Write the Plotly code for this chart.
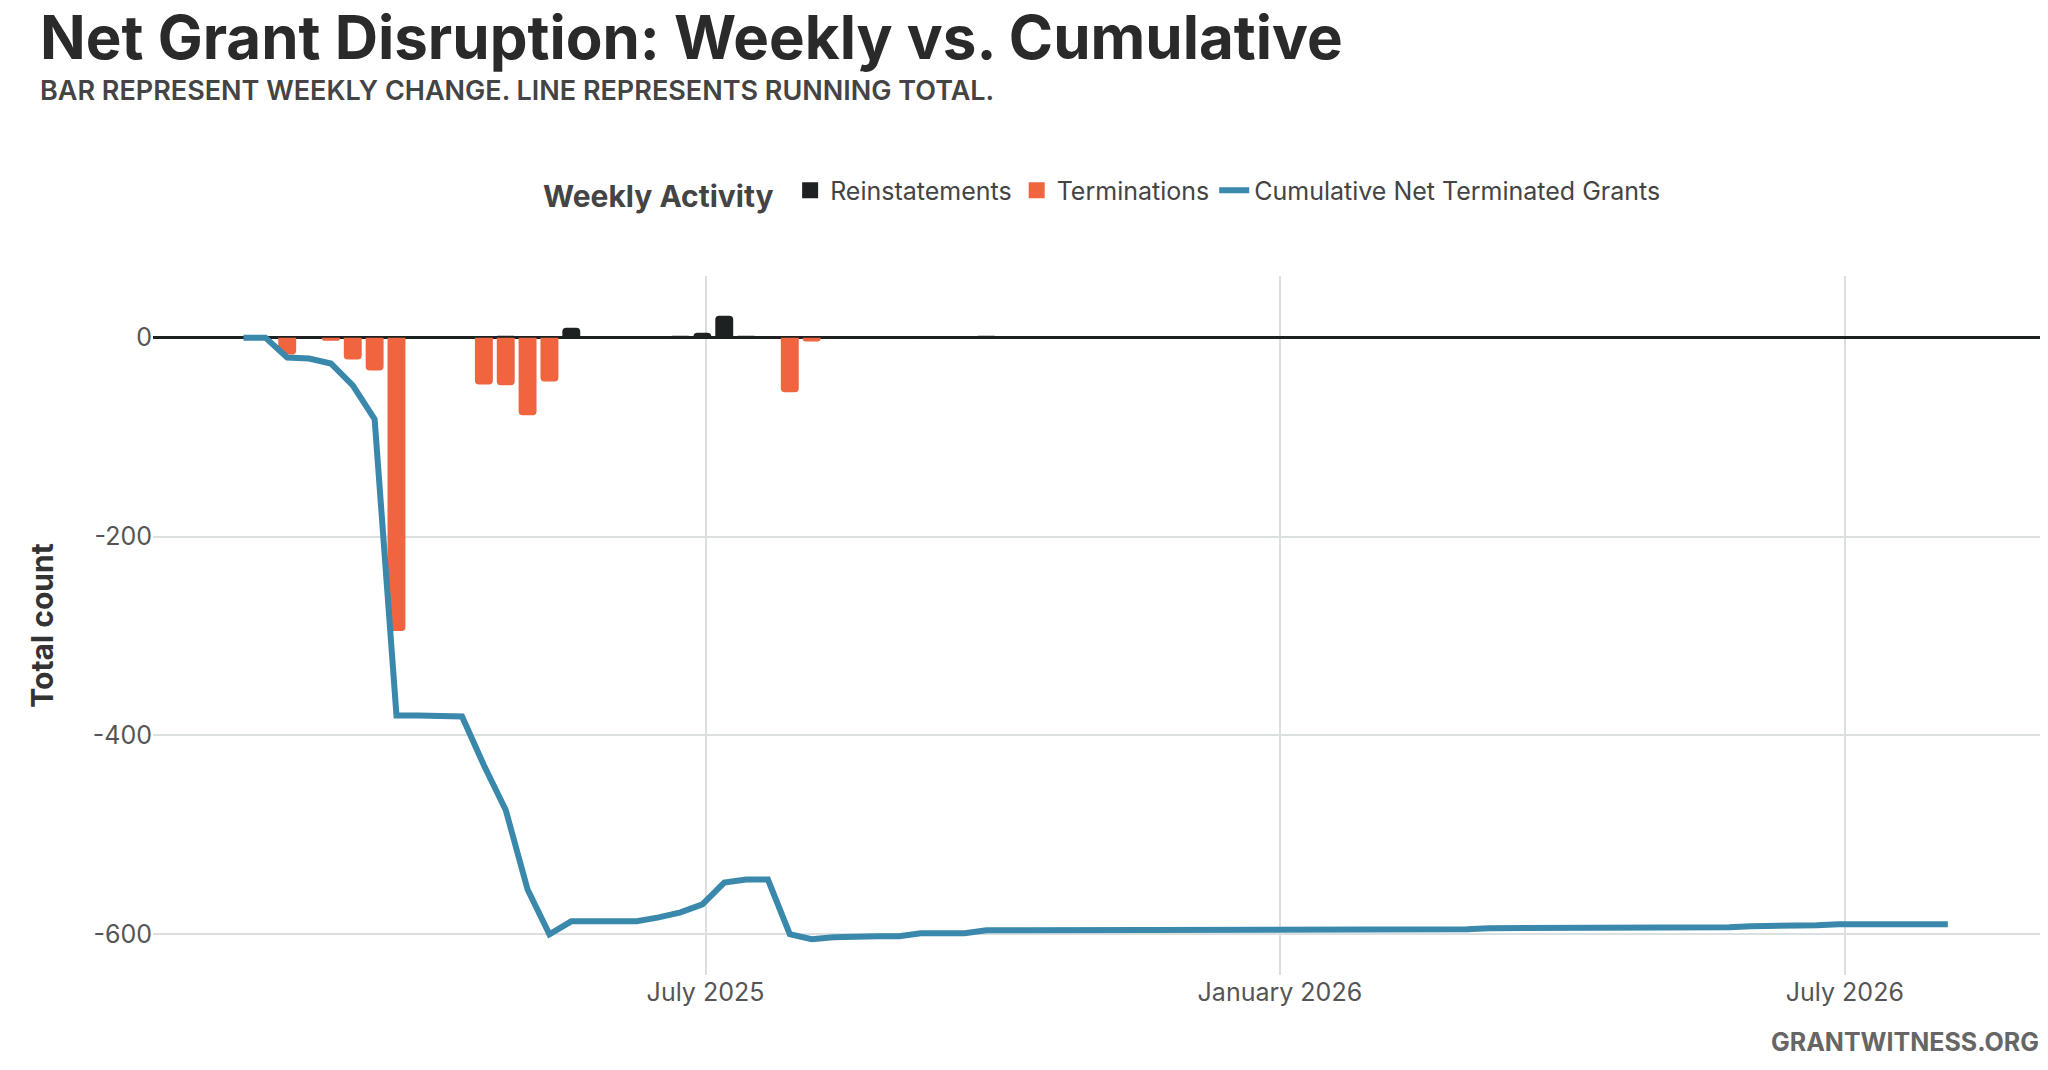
import plotly.graph_objects as go
import pandas as pd

start = "2025-02-03"
n_weeks = 79
weeks = list(pd.date_range(start, periods=n_weeks, freq="7D"))

terminations = [0,0,-17,0,-3,-22,-33,-295,0,0,0,-47,-48,-78,-44,0,0,0,0,0,
                0,0,0,0,0,-55,-4,0,0,0,0,0,0,0,0,0,0,0,0,0,
                0,0,0,0,0,0,0,0,0,0,0,0,0,0,0,0,0,0,0,0,
                0,0,0,0,0,0,0,0,0,0,0,0,0,0,0,0,0,0,0]
reinstatements = [0,0,0,0,0,0,0,0,0,0,0,0,2,0,0,10,0,1,0,1,
                  2,5,22,2,0,0,0,1,0,0,0,1,0,0,2,0,0,0,0,0,
                  0,0,0,0,0,0,0,0,0,0,0,0,0,0,0,0,0,0,0,0,
                  0,0,0,0,0,0,0,0,0,0,0,0,0,1,0,0,0,0,0]
cumulative = [0,0,-20,-21,-26,-48,-82,-380,-380,-380,-381,-430,-475,-555,-600,-587,-587,-587,-587,-583,
              -578,-570,-548,-545,-545,-600,-605,-603,-602,-602,-602,-599,-599,-599,-596,-596,-596,-596,-596,-596,
              -596,-596,-596,-596,-596,-596,-596,-595,-595,-595,-595,-595,-595,-595,-595,-595,-595,-594,-594,-594,
              -594,-594,-593,-593,-593,-593,-593,-593,-593,-592,-592,-592,-591,-590,-590,-590,-590,-590,-590]

tick_vals = ["2025-07-01", "2026-01-01", "2026-07-01"]
tick_text = ["July 2025", "January 2026", "July 2026"]

FONT = "Inter"
week_ms = 7 * 24 * 3600 * 1000 * 0.82
C_REI, C_TER, C_LINE = "#1e2122", "#f06440", "#3a88ab"

fig = go.Figure()
fig.add_trace(go.Bar(x=weeks, y=reinstatements, name="Reinstatements", width=week_ms,
                     marker=dict(color=C_REI, cornerradius=4, line=dict(width=0)), showlegend=False))
fig.add_trace(go.Bar(x=weeks, y=terminations, name="Terminations", width=week_ms,
                     marker=dict(color=C_TER, cornerradius=4, line=dict(width=0)), showlegend=False))
fig.add_trace(go.Scatter(x=[None], y=[None], mode="markers", name="Reinstatements",
                         marker=dict(symbol="square", size=40, color=C_REI)))
fig.add_trace(go.Scatter(x=[None], y=[None], mode="markers", name="Terminations",
                         marker=dict(symbol="square", size=40, color=C_TER)))
fig.add_trace(go.Scatter(x=weeks, y=cumulative, mode="lines", name="Cumulative Net Terminated Grants",
                         line=dict(color=C_LINE, width=6)))

fig.update_layout(
    width=2048, height=1070,
    margin=dict(l=145, r=2, t=268, b=103),
    plot_bgcolor="white", paper_bgcolor="white",
    barmode="overlay", showlegend=True,
    font=dict(family=FONT, color="#444", size=24),
    legend=dict(orientation="h", x=0.5, xanchor="center", y=1.12, yanchor="middle",
                title=dict(text="<b>Weekly Activity</b> ", font=dict(size=30, color="#444")),
                font=dict(size=25, color="#444"), itemsizing="trace", traceorder="normal"),
    xaxis=dict(range=["2025-01-05", "2026-09-06"], tickvals=tick_vals, ticktext=tick_text,
               showgrid=True, gridcolor="#dcdfdf", gridwidth=2, zeroline=False,
               showline=False, ticks="", tickfont=dict(size=25, color="#555")),
    yaxis=dict(range=[-641, 62], tickvals=[-600, -400, -200, 0],
               ticktext=["-600", "-400", "-200", "0"],
               showgrid=True, gridcolor="#dcdfdf", gridwidth=2,
               zeroline=True, zerolinecolor=C_REI, zerolinewidth=3,
               ticks="", tickfont=dict(size=25, color="#555"),
               title=dict(text="<b>Total count</b>", font=dict(size=30, color="#333"), standoff=30)),
    annotations=[
        dict(text="<b>Net Grant Disruption: Weekly vs. Cumulative</b>", xref="paper", yref="paper",
             x=-0.0605, y=1.342, xanchor="left", yanchor="middle", showarrow=False,
             font=dict(size=60, color="#2a2a2a", family=FONT)),
        dict(text="BAR REPRESENT WEEKLY CHANGE. LINE REPRESENTS RUNNING TOTAL.", xref="paper", yref="paper",
             x=-0.0605, y=1.266, xanchor="left", yanchor="middle", showarrow=False,
             font=dict(size=27, color="#444", family=FONT, weight=600)),
        dict(text="<b>GRANTWITNESS.ORG</b>", xref="paper", yref="paper",
             x=0.993, y=-0.096, xanchor="right", yanchor="middle", showarrow=False,
             font=dict(size=25, color="#666", family=FONT)),
    ],
)
fig.write_html("out.html")
